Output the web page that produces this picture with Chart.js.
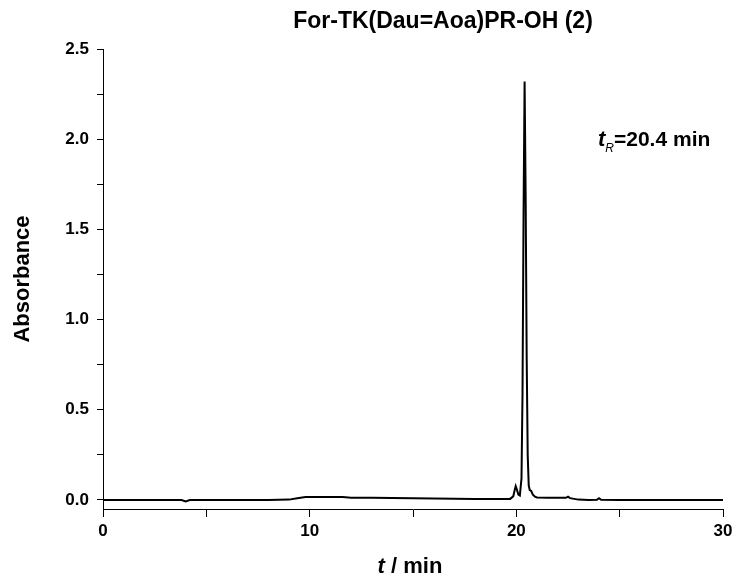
<!DOCTYPE html>
<html>
<head>
<meta charset="utf-8">
<script src="https://cdn.jsdelivr.net/npm/chart.js@4"></script>
<style>
  html, body { margin: 0; padding: 0; background: #fff; }
  #wrap { width: 734px; height: 579px; }
</style>
</head>
<body>
<div id="wrap"><canvas id="chromChart"></canvas></div>
<script>
// retention time (min) and absorbance
const times = [0, 1, 2, 3, 3.8, 4.0, 4.2, 5, 6, 7, 8, 9, 9.4, 9.8, 10.5, 11, 11.6, 12, 13, 14, 15, 16, 17, 18, 19, 19.7,
  19.85, 19.93, 19.97, 20.02, 20.1, 20.17, 20.25, 20.3, 20.35, 20.4, 20.45, 20.5, 20.55, 20.6, 20.65, 20.72, 20.8, 20.9,
  21.0, 21.5, 22.0, 22.4, 22.5, 22.6, 23.0, 23.5, 23.9, 24.0, 24.1, 25, 26, 27, 28, 29, 30];
const absorbance = [0, 0, 0, 0, 0, -0.008, 0, 0, 0, 0, 0, 0.002, 0.01, 0.017, 0.017, 0.017, 0.016, 0.013, 0.012, 0.011, 0.01, 0.008, 0.007, 0.006, 0.005, 0.006,
  0.02, 0.06, 0.077, 0.06, 0.03, 0.025, 0.12, 0.6, 1.6, 2.32, 1.7, 0.8, 0.25, 0.08, 0.055, 0.05, 0.03, 0.018,
  0.014, 0.013, 0.012, 0.012, 0.018, 0.01, 0.002, 0, 0.001, 0.01, 0.001, 0, 0, 0, 0, 0, 0];

const xTicks = [0, 5, 10, 15, 20, 25, 30];
const yTicks = [0, 0.25, 0.5, 0.75, 1.0, 1.25, 1.5, 1.75, 2.0, 2.25, 2.5];

const titleText = 'For-TK(Dau=Aoa)PR-OH (2)';
const yTitle = 'Absorbance';

const points = times.map((t, i) => ({ x: t, y: absorbance[i] }));
const FONT = '"Liberation Sans", Arial, sans-serif';

// draw runs of text with different fonts in one line
function drawRuns(ctx, runs, x, y, align) {
  let total = 0;
  runs.forEach(r => { ctx.font = r.font; total += ctx.measureText(r.text).width; });
  let cx = align === 'center' ? x - total / 2 : x;
  runs.forEach(r => {
    ctx.font = r.font;
    ctx.fillText(r.text, cx, y + (r.dy || 0));
    cx += ctx.measureText(r.text).width;
  });
}

const textPlugin = {
  id: 'texts',
  afterDraw(chart) {
    const ctx = chart.ctx;
    ctx.save();
    ctx.fillStyle = '#000';
    ctx.textBaseline = 'alphabetic';
    ctx.textAlign = 'left';
    drawRuns(ctx, [{ text: titleText, font: 'bold 23px ' + FONT }], 443, 28, 'center');

    // x axis title
    drawRuns(ctx, [
      { text: 't', font: 'italic bold 22px ' + FONT },
      { text: ' / min', font: 'bold 22px ' + FONT }
    ], 410, 573, 'center');

    // retention time note
    drawRuns(ctx, [
      { text: 't', font: 'italic bold 22px ' + FONT },
      { text: 'R', font: 'italic 12px ' + FONT, dy: 6 },
      { text: '=20.4 min', font: 'bold 21px ' + FONT }
    ], 598, 146, 'left');
    ctx.restore();
  }
};

new Chart(document.getElementById('chromChart'), {
  type: 'line',
  data: {
    datasets: [{
      data: points,
      borderColor: '#000',
      borderWidth: 2,
      pointRadius: 0,
      tension: 0,
      fill: false
    }]
  },
  options: {
    responsive: true,
    maintainAspectRatio: false,
    animation: false,
    layout: { padding: { top: 49, right: 11, left: 0, bottom: 0 } },
    plugins: { legend: { display: false }, tooltip: { enabled: false }, title: { display: false } },
    scales: {
      x: {
        type: 'linear',
        min: 0,
        max: 30,
        afterBuildTicks: s => { s.ticks = xTicks.map(v => ({ value: v })); },
        afterFit: s => { s.height = 70; s.paddingLeft = 0; s.paddingRight = 0; },
        ticks: {
          color: '#000',
          font: { family: FONT, size: 17, weight: 'bold' },
          padding: 4,
          maxRotation: 0,
          callback: v => (v % 10 === 0 ? String(v) : '')
        },
        grid: { drawOnChartArea: false, drawTicks: true, tickLength: 8, color: '#000', tickWidth: 1 },
        border: { color: '#000', width: 1 }
      },
      y: {
        min: -0.05,
        max: 2.5,
        afterBuildTicks: s => { s.ticks = yTicks.map(v => ({ value: v })); },
        afterFit: s => { s.width = 103; },
        ticks: {
          color: '#000',
          font: { family: FONT, size: 17, weight: 'bold' },
          padding: 8,
          callback: v => (Math.abs(v * 2 - Math.round(v * 2)) < 1e-6 ? v.toFixed(1) : '')
        },
        grid: { drawOnChartArea: false, drawTicks: true, tickLength: 6, color: '#000', tickWidth: 1 },
        border: { color: '#000', width: 1 },
        title: {
          display: true,
          text: yTitle,
          color: '#000',
          font: { family: FONT, size: 22, weight: 'bold' },
          padding: { top: 10, bottom: 0 }
        }
      }
    }
  },
  plugins: [textPlugin]
});
</script>
</body>
</html>
